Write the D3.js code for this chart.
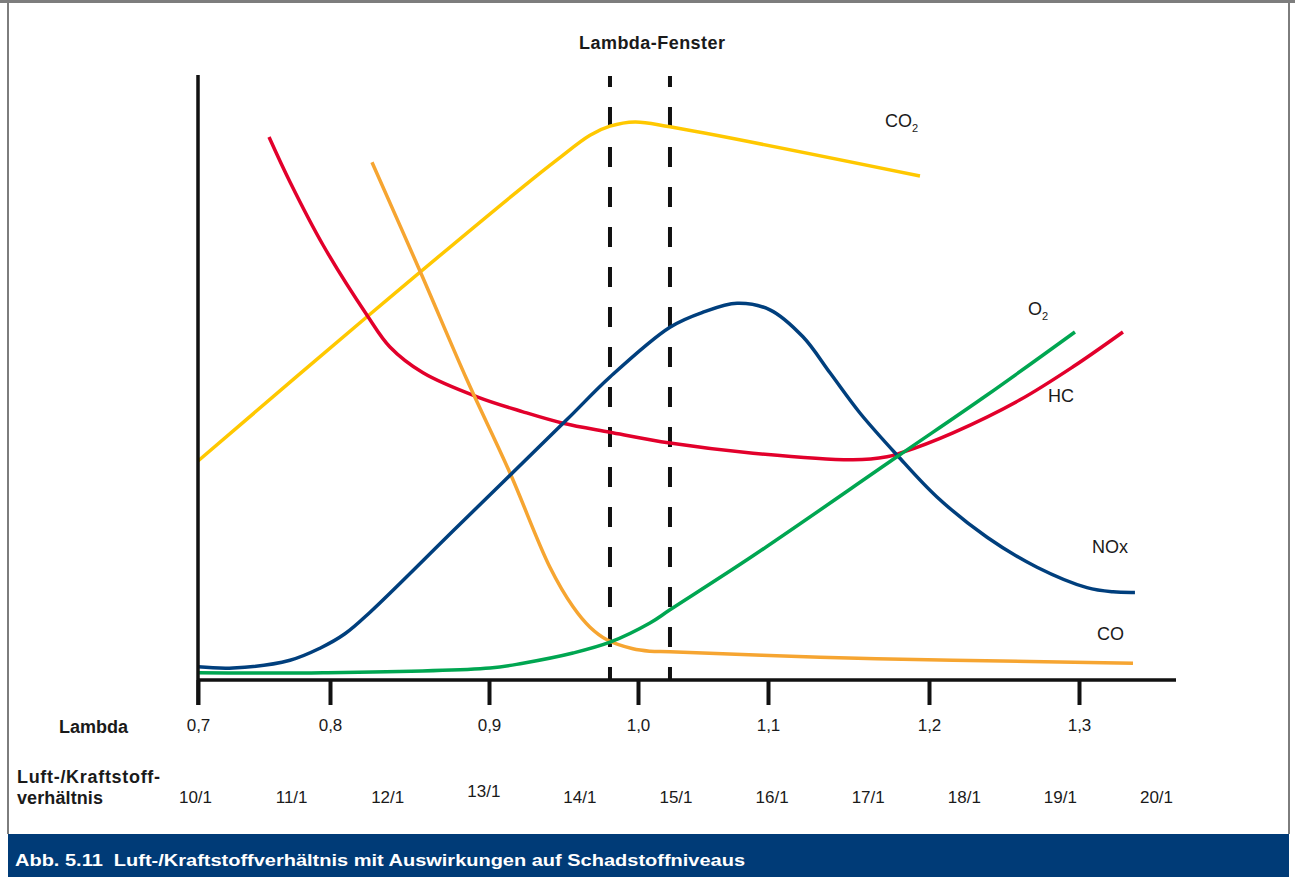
<!DOCTYPE html>
<html>
<head>
<meta charset="utf-8">
<script src="https://cdn.jsdelivr.net/npm/d3@7"></script>
<style>
  body { margin: 0; background: #fff; }
  svg text { font-family: "Liberation Sans", Arial, Helvetica, sans-serif; fill: #1a1a1a; }
</style>
</head>
<body>
<div class="chart"></div>
<script>
// Lambda-Werte der Achse und Luft-/Kraftstoffverhältnis
var lambdaTicks = [0.7, 0.8, 0.9, 1.0, 1.1, 1.2, 1.3];
var ratioLabels = ["10/1", "11/1", "12/1", "13/1", "14/1", "15/1", "16/1", "17/1", "18/1", "19/1", "20/1"];
var lambdaWindow = [0.9812, 1.0246];

// Kurven: [lambda, relativer Wert 0..100]
var co2 = [[0.7, 36.5], [0.8231, 60.5], [0.9228, 82.2], [0.9456, 86.7], [0.9678, 90.8],
  [0.9812, 92.3], [0.998, 93.0], [1.0246, 92.2], [1.1944, 84.0]];
var hc = [[0.7538, 90.5], [0.7697, 83.0], [0.7947, 72.5], [0.8233, 60.8], [0.8377, 55.5], [0.8585, 51.2],
  [0.8925, 47.2], [0.9228, 44.7], [0.9497, 42.8], [0.9812, 41.3], [1.0246, 39.5], [1.0885, 37.8],
  [1.1528, 36.7], [1.1739, 37.2], [1.182, 37.8], [1.216, 41.2], [1.2607, 46.7], [1.296, 52.2], [1.3293, 58.0]];
var co = [[0.8264, 86.3], [0.8572, 67.8], [0.8862, 50.0], [0.9141, 34.5], [0.9409, 18.8], [0.9564, 12.2],
  [0.9678, 8.8], [0.9792, 6.7], [0.9966, 5.2], [1.0092, 4.8], [1.0246, 4.7], [1.1323, 3.8], [1.216, 3.3], [1.336, 2.8]];
var nox = [[0.7, 2.2], [0.7265, 2.0], [0.7697, 3.3], [0.7924, 5.3], [0.8094, 7.7], [0.8252, 11.3],
  [0.8799, 25.5], [0.9523, 43.4], [0.9812, 50.5], [1.0246, 58.8], [1.05, 61.3], [1.0762, 62.8], [1.1012, 61.7],
  [1.1217, 57.2], [1.1385, 51.2], [1.1571, 44.5], [1.1801, 37.5], [1.2053, 30.5], [1.2387, 23.8], [1.272, 18.8],
  [1.3053, 15.4], [1.3227, 14.7], [1.3373, 14.6]];
var o2 = [[0.7, 1.2], [0.7947, 1.2], [0.9007, 2.0], [0.9228, 2.8], [0.9564, 4.5], [0.9812, 6.3], [1.0092, 9.5],
  [1.0246, 11.7], [1.0885, 20.7], [1.1801, 37.2], [1.2387, 47.5], [1.2973, 58.0]];

var width = 1295;
var height = 877;

var svg = d3.select(".chart")
  .append("svg")
  .attr("width", width)
  .attr("height", height);

// Rahmen
svg.append("line").attr("x1", 8).attr("x2", 8).attr("y1", 0).attr("y2", 834).attr("stroke", "#7d7d7d").attr("stroke-width", 2);
svg.append("line").attr("x1", 1289).attr("x2", 1289).attr("y1", 0).attr("y2", 834).attr("stroke", "#7d7d7d").attr("stroke-width", 2);
svg.append("line").attr("x1", 0).attr("x2", width).attr("y1", 1.5).attr("y2", 1.5).attr("stroke", "#7d7d7d").attr("stroke-width", 3);

// Die Lambda-Teilstriche sind in der Vorlage ungleichmäßig verteilt
var x = d3.scaleLinear()
  .domain(lambdaTicks)
  .range([198, 330, 489, 638, 768, 929, 1079]);

var y = d3.scaleLinear()
  .domain([0, 100])
  .range([680, 80]);

var r = d3.scalePoint()
  .domain(ratioLabels)
  .range([195, 1156]);

// Lambda-Fenster (gestrichelt)
svg.selectAll(".window")
  .data(lambdaWindow)
  .enter().append("line")
  .attr("class", "window")
  .attr("x1", function(d) { return x(d); })
  .attr("x2", function(d) { return x(d); })
  .attr("y1", 680)
  .attr("y2", 76)
  .attr("stroke", "#111")
  .attr("stroke-width", 4)
  .attr("stroke-dasharray", "20,20")
  .attr("stroke-dashoffset", 7);

svg.append("text")
  .attr("x", 652)
  .attr("y", 49)
  .attr("text-anchor", "middle")
  .attr("textLength", 146)
  .style("font-size", "18px")
  .style("font-weight", "bold")
  .text("Lambda-Fenster");

// Kurven
var line = d3.line()
  .x(function(d) { return x(d[0]); })
  .y(function(d) { return y(d[1]); })
  .curve(d3.curveCatmullRom.alpha(0.5));

var series = [
  { name: "CO2", values: co2, color: "#ffc800" },
  { name: "HC", values: hc, color: "#e2002b" },
  { name: "CO", values: co, color: "#f6a531" },
  { name: "NOx", values: nox, color: "#003f7d" },
  { name: "O2", values: o2, color: "#00a651" }
];

svg.selectAll(".curve")
  .data(series)
  .enter().append("path")
  .attr("class", "curve")
  .attr("d", function(d) { return line(d.values); })
  .attr("fill", "none")
  .attr("stroke", function(d) { return d.color; })
  .attr("stroke-width", 3.5)
  .attr("stroke-linecap", "butt");

// Achsen
svg.append("line").attr("x1", 198).attr("x2", 198).attr("y1", 75).attr("y2", 705).attr("stroke", "#111").attr("stroke-width", 3.5);
svg.append("line").attr("x1", 198).attr("x2", 1176).attr("y1", 680).attr("y2", 680).attr("stroke", "#111").attr("stroke-width", 3.5);

var xAxis = svg.append("g")
  .attr("transform", "translate(0,680)")
  .call(d3.axisBottom(x)
    .tickValues(lambdaTicks)
    .tickSize(25)
    .tickPadding(14)
    .tickFormat(function(d) { return d.toFixed(1).replace(".", ","); }));
xAxis.select(".domain").remove();
xAxis.attr("font-family", null).attr("font-size", null);
xAxis.selectAll("line").attr("stroke", "#111").attr("stroke-width", 4);
xAxis.selectAll("text").style("font-size", "17px");

var rAxis = svg.append("g")
  .attr("transform", "translate(0,803)")
  .call(d3.axisBottom(r).tickSize(0).tickPadding(0));
rAxis.select(".domain").remove();
rAxis.attr("font-family", null).attr("font-size", null);
rAxis.selectAll("text")
  .attr("y", function(d) { return d === "13/1" ? -6 : 0; })
  .attr("dy", 0)
  .style("font-size", "17px");

// Achsenbeschriftungen
svg.append("text").attr("x", 128).attr("y", 733).attr("text-anchor", "end")
  .style("font-size", "18px").style("font-weight", "bold").text("Lambda");
svg.append("text").attr("x", 17).attr("y", 783).attr("textLength", 143)
  .style("font-size", "18px").style("font-weight", "bold").text("Luft-/Kraftstoff-");
svg.append("text").attr("x", 17).attr("y", 804).attr("textLength", 86)
  .style("font-size", "18px").style("font-weight", "bold").text("verhältnis");

// Kurvenbeschriftungen
var co2Label = svg.append("text").attr("x", 885).attr("y", 127).style("font-size", "18px").text("CO");
co2Label.append("tspan").attr("dy", 5).style("font-size", "11px").text("2");
var o2Label = svg.append("text").attr("x", 1028).attr("y", 315).style("font-size", "18px").text("O");
o2Label.append("tspan").attr("dy", 5).style("font-size", "11px").text("2");
svg.append("text").attr("x", 1048).attr("y", 402).style("font-size", "18px").text("HC");
svg.append("text").attr("x", 1092).attr("y", 553).style("font-size", "18px").text("NOx");
svg.append("text").attr("x", 1097).attr("y", 640).style("font-size", "18px").text("CO");

// Bildunterschrift
svg.append("rect")
  .attr("x", 8)
  .attr("y", 834)
  .attr("width", 1281)
  .attr("height", 43)
  .attr("fill", "#003b77");
svg.append("text")
  .attr("x", 15)
  .attr("y", 866)
  .attr("textLength", 730)
  .attr("lengthAdjust", "spacingAndGlyphs")
  .style("white-space", "pre")
  .style("font-size", "17px")
  .style("font-weight", "bold")
  .style("fill", "#fff")
  .text("Abb. 5.11  Luft-/Kraftstoffverhältnis mit Auswirkungen auf Schadstoffniveaus");
</script>
</body>
</html>
